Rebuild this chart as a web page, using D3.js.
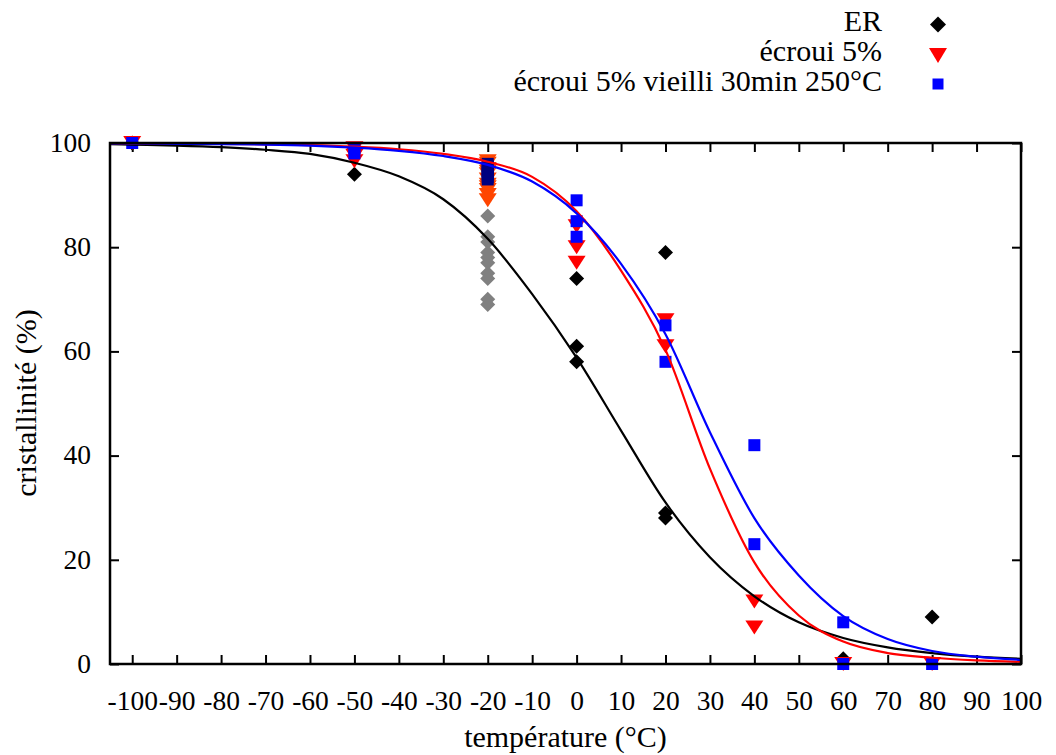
<!DOCTYPE html>
<html><head><meta charset="utf-8">
<script src="https://cdn.jsdelivr.net/npm/d3@7"></script>
<style>
body{margin:0;background:#fff}
svg{display:block}
text{font-family:"Liberation Serif","Times New Roman",Times,serif;fill:#000}
</style>
</head><body>
<svg id="c" width="1056" height="755"></svg>
<script>
// ---------- data ----------
const xTicks = [-100,-90,-80,-70,-60,-50,-40,-30,-20,-10,0,10,20,30,40,50,60,70,80,90,100];
const yTicks = [0,20,40,60,80,100];

// ER (black diamonds)
const erT = [-100,-50,0,0,0,20,20,20,60,80];
const erV = [100,94,74,61,58,79,29,28,1,9];
// ER at -20 °C (grey diamonds)
const erM20T = [-20,-20,-20,-20,-20,-20,-20,-20,-20,-20];
const erM20V = [86,82,81,79,78,77,75,74,70,69];

// écroui 5% (red triangles)
const ecrT = [-100,-50,-50,-50,-50,0,0,0,20,20,40,40,60,80];
const ecrV = [100,99,98,97.5,96.5,84,80,77,66,61,12,7,0,0];
// écroui 5% at -20 °C (orange-red triangles)
const ecrM20T = [-20,-20,-20,-20,-20,-20,-20,-20,-20,-20,-20];
const ecrM20V = [96.5,96,95,94.5,94,93,92,91.5,91,90,89];

// écroui 5% vieilli 30min 250°C (blue squares)
const vieT = [-100,-50,-50,0,0,0,20,20,40,40,60,60,80];
const vieV = [100,99,98,89,85,82,65,58,42,23,8,0,0];
// vieilli at -20 °C (navy squares)
const vieM20T = [-20,-20,-20,-20,-20,-20,-20];
const vieM20V = [96,95.5,95,94.5,94,93.5,93];

// fitted curves
const fitT   = [-105,-100,-90,-80,-70,-60,-50,-40,-30,-20,-10,0,10,20,30,40,50,60,70,80,90,100];
const erFit  = [99.8,99.7,99.5,99.2,98.7,97.9,96.2,93.6,89.2,81.6,71.0,58.8,44.8,31.0,20.5,13.0,8.0,5.0,3.2,2.1,1.4,1.0];
const ecrFit = [99.95,99.93,99.9,99.85,99.75,99.6,99.3,98.8,97.9,96.4,93.5,86.9,75.5,60.3,37.5,19.5,9.3,4.3,2.1,1.2,0.7,0.4];
const vieFit = [99.9,99.9,99.85,99.8,99.7,99.5,99.1,98.5,97.5,95.8,92.6,86.5,76.8,63.3,44.5,28.0,17.0,9.2,4.8,2.5,1.4,0.8];

const legendLabels = ["ER","écroui 5%","écroui 5% vieilli 30min 250°C"];
const xTitle = "température (°C)";
const yTitle = "cristallinité (%)";

// ---------- layout ----------
const L = 110, R = 1021, T = 143, B = 664;
const svg = d3.select("#c");
const x = d3.scaleLinear().domain([-105,100]).range([L,R]);
const y = d3.scaleLinear().domain([0,100]).range([B,T]);

const C_BLACK="#000000", C_RED="#ff0000", C_BLUE="#0000ff";
const C_GREY="#808080", C_ORANGE="#ff4500", C_NAVY="#000080";
const FONT = '"Liberation Serif","Times New Roman",Times,serif';
const fmt = d => String(d);

// axes (inward ticks on all sides)
const gB = svg.append("g").attr("transform",`translate(0,${B})`)
  .call(d3.axisBottom(x).tickValues(xTicks).tickSize(-9).tickFormat(fmt));
gB.selectAll("text").attr("y",46).attr("dy",null).style("font-size","27.5px");
const gT = svg.append("g").attr("transform",`translate(0,${T})`)
  .call(d3.axisTop(x).tickValues(xTicks).tickSize(-9).tickFormat(""));
const gL = svg.append("g").attr("transform",`translate(${L},0)`)
  .call(d3.axisLeft(y).tickValues(yTicks).tickSize(-9).tickFormat(fmt));
gL.selectAll("text").attr("x",-19).attr("dy","0.3em").style("font-size","27.5px");
const gR = svg.append("g").attr("transform",`translate(${R},0)`)
  .call(d3.axisRight(y).tickValues(yTicks).tickSize(-9).tickFormat(""));
[gB,gT,gL,gR].forEach(g=>{
  g.attr("font-family",null);
  g.select(".domain").remove();
  g.selectAll(".tick line").attr("stroke","#000").attr("stroke-width",2);
  g.selectAll("text").attr("fill","#000").style("font-family",FONT);
});

// marker shapes
const diamond = h => `M0,${-h}L${h},0L0,${h}L${-h},0Z`;
const triDown = (w,hgt) => `M${-w/2},${-hgt/2}L${w/2},${-hgt/2}L0,${hgt/2}Z`;
const square = s => `M${-s/2},${-s/2}h${s}v${s}h${-s}Z`;

function pts(ts, vs, path, color){
  svg.append("g").selectAll("path").data(ts.map((t,i)=>[t,vs[i]])).join("path")
    .attr("d",path).attr("fill",color)
    .attr("transform",d=>`translate(${x(d[0])},${y(d[1])})`);
}
svg.append("clipPath").attr("id","pc").append("rect")
  .attr("x",L).attr("y",T-2).attr("width",R-L).attr("height",B-T+2);

pts(erT, erV, diamond(7.5), C_BLACK);
pts(erM20T, erM20V, diamond(7.5), C_GREY);
pts(ecrT, ecrV, triDown(18,14), C_RED);
pts(ecrM20T, ecrM20V, triDown(18,14), C_ORANGE);
pts(vieT, vieV, square(12), C_BLUE);
pts(vieM20T, vieM20V, square(12), C_NAVY);

const line = d3.line().x(d=>x(d[0])).y(d=>y(d[1])).curve(d3.curveMonotoneX);
[[erFit,C_BLACK],[ecrFit,C_RED],[vieFit,C_BLUE]].forEach(([vals,col])=>{
  svg.append("path").datum(fitT.map((t,i)=>[t,vals[i]]))
    .attr("d",line).attr("fill","none").attr("stroke",col).attr("stroke-width",2.2)
    .attr("clip-path","url(#pc)");
});

// border
svg.append("rect").attr("x",L).attr("y",T).attr("width",R-L).attr("height",B-T)
  .attr("fill","none").attr("stroke","#000").attr("stroke-width",2.5);

// titles
svg.append("text").attr("x",(L+R)/2).attr("y",747).attr("text-anchor","middle")
  .style("font-size","30px").text(xTitle);
svg.append("text").attr("transform","translate(36,403) rotate(-90)").attr("text-anchor","middle")
  .style("font-size","30px").text(yTitle);

// legend
const legY = [31,61,91];
const legMarkY = [24.5,55.5,84];
const legShapes = [[diamond(8),C_BLACK],[triDown(18,15),C_RED],[square(11),C_BLUE]];
legendLabels.forEach((lab,i)=>{
  svg.append("text").attr("x",882).attr("y",legY[i]).attr("text-anchor","end")
    .style("font-size","30px").text(lab);
  svg.append("path").attr("d",legShapes[i][0]).attr("fill",legShapes[i][1])
    .attr("transform",`translate(938,${legMarkY[i]})`);
});
</script>
</body></html>
